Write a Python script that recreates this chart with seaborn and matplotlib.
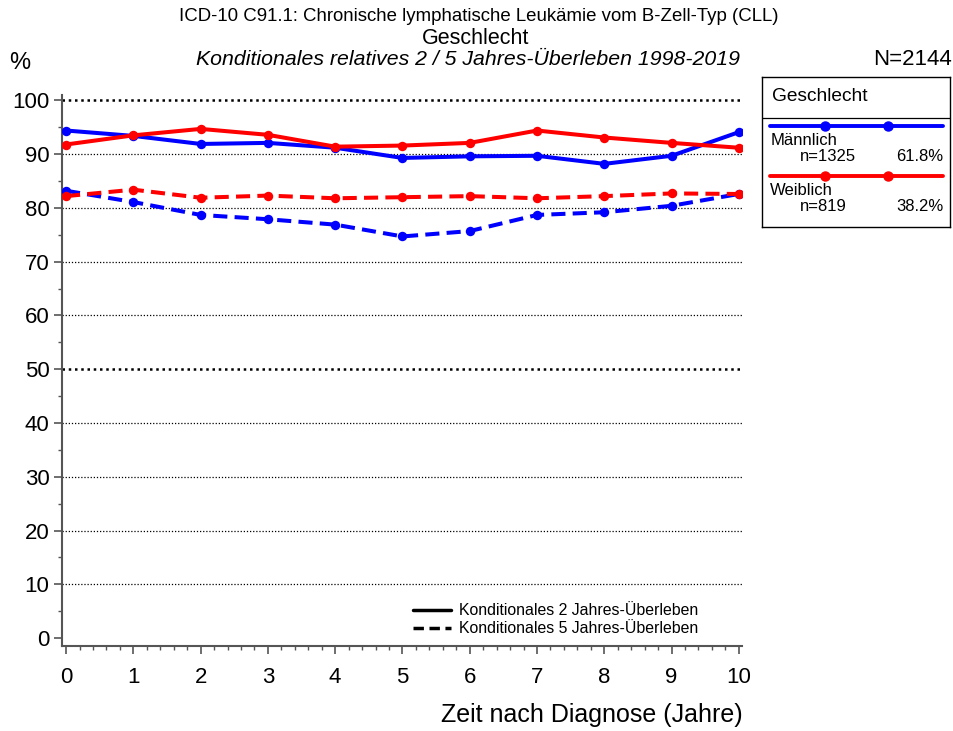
import numpy as np
import pandas as pd
import matplotlib
matplotlib.use("Agg")
import matplotlib.pyplot as plt
from matplotlib.lines import Line2D
import seaborn as sns

# data
jahre = [0, 1, 2, 3, 4, 5, 6, 7, 8, 9, 10]
maennlich_2j = [94.4, 93.4, 91.9, 92.1, 91.2, 89.3, 89.6, 89.7, 88.2, 89.7, 94.1]
weiblich_2j = [91.8, 93.5, 94.7, 93.6, 91.4, 91.6, 92.1, 94.4, 93.1, 92.1, 91.2]
maennlich_5j = [83.2, 81.1, 78.7, 77.9, 76.9, 74.7, 75.7, 78.7, 79.2, 80.4, 82.6]
weiblich_5j = [82.2, 83.4, 81.9, 82.3, 81.8, 82.0, 82.2, 81.8, 82.2, 82.7, 82.6]

gruppen = ["Männlich", "Weiblich"]
gruppen_n = ["n=1325", "n=819"]
gruppen_pct = ["61.8%", "38.2%"]
farben = {"Männlich": "#0000ff", "Weiblich": "#ff0000"}
typ_labels = ["Konditionales 2 Jahres-Überleben", "Konditionales 5 Jahres-Überleben"]

rows = []
for g, y2, y5 in [("Männlich", maennlich_2j, maennlich_5j), ("Weiblich", weiblich_2j, weiblich_5j)]:
    for x, a, b in zip(jahre, y2, y5):
        rows.append({"Jahr": x, "Wert": a, "Geschlecht": g, "Typ": "2J"})
        rows.append({"Jahr": x, "Wert": b, "Geschlecht": g, "Typ": "5J"})
df = pd.DataFrame(rows)

sns.set_style("white")
plt.rcParams["font.family"] = ["Liberation Sans", "DejaVu Sans"]
plt.rcParams["text.color"] = "black"
plt.rcParams["axes.labelcolor"] = "black"

fig = plt.figure(figsize=(9.54, 7.31), dpi=100)
ax = fig.add_axes([0.065, 0.116, 0.713, 0.754])

# grid lines (dotted), thicker at 50 and 100
for v in range(10, 101, 10):
    lw = 1.8 if v in (50, 100) else 0.9
    ax.axhline(v, color="black", linestyle=(0, (1, 1.5)), linewidth=lw, zorder=1)

sns.lineplot(data=df, x="Jahr", y="Wert", hue="Geschlecht", style="Typ",
             palette=farben, markers={"2J": "o", "5J": "o"},
             dashes={"2J": "", "5J": (3.5, 1.8)},
             linewidth=2.9, markersize=6.8, markeredgewidth=0,
             legend=False, ax=ax, zorder=3)

ax.set_xlim(-0.06, 10.05)
ax.set_ylim(-1.5, 101)
ax.set_xticks(range(0, 11))
ax.set_xticks(np.arange(0, 10.01, 0.2), minor=True)
ax.set_yticks(range(0, 101, 10))
ax.set_yticks(range(5, 100, 10), minor=True)
ax.tick_params(axis="both", which="major", labelsize=16, length=6, width=1.2,
               color="#555555", labelcolor="black", direction="out",
               left=True, bottom=True, pad=3)
ax.tick_params(axis="both", which="minor", length=3, width=1.0,
               color="#555555", direction="out", left=True, bottom=True)
ax.tick_params(axis="x", which="major", pad=9)
for s in ["top", "right"]:
    ax.spines[s].set_visible(False)
for s in ["left", "bottom"]:
    ax.spines[s].set_color("#555555")
    ax.spines[s].set_linewidth(1.5)
ax.set_xlabel("Zeit nach Diagnose (Jahre)", fontsize=18, loc="right", labelpad=11)
ax.set_ylabel("")

# line style legend inside the plot
handles = [Line2D([], [], color="black", linewidth=2.5, linestyle="-"),
           Line2D([], [], color="black", linewidth=2.5, linestyle=(0, (3, 1.6)))]
ax.legend(handles, typ_labels, loc="lower right", bbox_to_anchor=(0.952, -0.002),
          frameon=False, fontsize=11.4, handlelength=2.4, handletextpad=0.5,
          labelspacing=0.2, borderpad=0.2)

# titles
fig.text(0.502, 0.977, "ICD-10 C91.1: Chronische lymphatische Leukämie vom B-Zell-Typ (CLL)",
         ha="center", va="center", fontsize=13.4)
fig.text(0.498, 0.947, "Geschlecht", ha="center", va="center", fontsize=15.5)
fig.text(0.491, 0.918, "Konditionales relatives 2 / 5 Jahres-Überleben 1998-2019",
         ha="center", va="center", fontsize=15.3, style="italic")
fig.text(0.021, 0.914, "%", ha="center", va="center", fontsize=17)
fig.text(0.998, 0.918, "N=2144", ha="right", va="center", fontsize=16)

# group legend box on the right
lax = fig.add_axes([0.799, 0.689, 0.197, 0.206])
lax.set_xlim(0, 1)
lax.set_ylim(0, 1)
lax.set_xticks([])
lax.set_yticks([])
for s in lax.spines.values():
    s.set_color("black")
    s.set_linewidth(1.0)
lax.text(0.05, 0.867, "Geschlecht", fontsize=13.8, va="center", ha="left")
lax.axhline(0.727, color="black", linewidth=0.9)
for i, g in enumerate(gruppen):
    y0 = 0.673 - i * 0.333
    lax.plot([0.043, 0.963], [y0, y0], color=farben[g], linewidth=2.8)
    lax.plot([0.335, 0.67], [y0, y0], color=farben[g], linestyle="none",
             marker="o", markersize=6.5)
    lax.text(0.043, y0 - 0.093, g, fontsize=12, va="center", ha="left")
    lax.text(0.2, y0 - 0.2, gruppen_n[i], fontsize=12, va="center", ha="left")
    lax.text(0.963, y0 - 0.2, gruppen_pct[i], fontsize=12, va="center", ha="right")

fig.savefig("out.png", dpi=100)
